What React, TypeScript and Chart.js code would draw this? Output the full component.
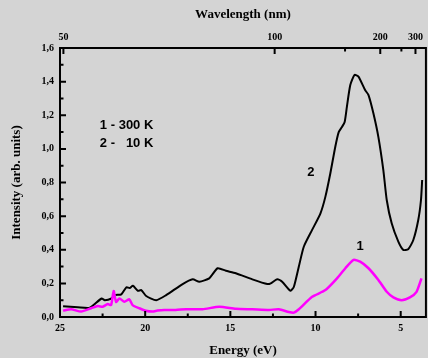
import React, { useEffect, useRef } from "react";
import { Chart, registerables } from "chart.js";

Chart.register(...registerables);

// Curve 1 (300 K, magenta)
const energy1 = [24.82, 24.34, 23.76, 23.17, 22.78, 22.49, 22.2, 22.0, 21.85, 21.71, 21.51, 21.22, 20.93, 20.74, 20.34, 19.96, 19.57, 19.28, 18.88, 18.21, 17.6, 16.63, 15.65, 14.68, 13.71, 12.73, 12.15, 11.57, 11.27, 10.98, 10.2, 9.42, 8.74, 8.25, 7.77, 7.38, 6.89, 6.31, 5.82, 5.43, 4.95, 4.46, 4.07, 3.78];
const intensity1 = [0.038, 0.046, 0.032, 0.052, 0.065, 0.061, 0.077, 0.071, 0.155, 0.09, 0.11, 0.09, 0.105, 0.071, 0.052, 0.037, 0.032, 0.038, 0.042, 0.042, 0.046, 0.046, 0.061, 0.049, 0.046, 0.042, 0.046, 0.03, 0.026, 0.046, 0.12, 0.16, 0.23, 0.29, 0.34, 0.329, 0.29, 0.22, 0.15, 0.117, 0.1, 0.117, 0.15, 0.23];

// Curve 2 (10 K, black)
const energy2 = [24.82, 23.95, 23.25, 22.56, 22.37, 21.98, 21.79, 21.4, 21.1, 20.91, 20.72, 20.43, 20.23, 19.94, 19.35, 18.77, 17.8, 17.21, 16.82, 16.24, 15.75, 15.26, 14.68, 13.71, 12.83, 12.63, 12.25, 11.96, 11.47, 11.27, 10.98, 10.69, 10.2, 9.71, 9.42, 9.13, 8.84, 8.64, 8.45, 8.29, 8.16, 7.96, 7.71, 7.48, 7.09, 6.89, 6.6, 6.31, 6.02, 5.82, 5.53, 5.14, 4.85, 4.56, 4.26, 3.97, 3.81, 3.74];
const intensity2 = [0.064, 0.058, 0.055, 0.11, 0.1, 0.11, 0.13, 0.135, 0.177, 0.172, 0.186, 0.156, 0.16, 0.125, 0.1, 0.13, 0.196, 0.224, 0.21, 0.23, 0.29, 0.275, 0.26, 0.224, 0.196, 0.2, 0.224, 0.21, 0.156, 0.18, 0.3, 0.418, 0.518, 0.617, 0.716, 0.855, 1.013, 1.1, 1.13, 1.16, 1.25, 1.38, 1.44, 1.43, 1.35, 1.32, 1.21, 1.07, 0.874, 0.696, 0.557, 0.448, 0.399, 0.403, 0.458, 0.577, 0.696, 0.815];

// Axes
const energyMin = 3.52;
const energyMax = 25;
const energyTicks = [25, 20, 15, 10, 5];
const energyMinorTicks = [22.5, 17.5, 12.5, 7.5];
const intensityTicks = [0, 0.2, 0.4, 0.6, 0.8, 1.0, 1.2, 1.4, 1.6];
const intensityMinorTicks = [0.1, 0.3, 0.5, 0.7, 0.9, 1.1, 1.3, 1.5];
const wavelengthTicks = [50, 100, 150, 200, 250, 300];
const wavelengthLabels = ["50", "100", "", "200", "", "300"];
const wavelengthMajor = [true, true, false, true, false, true];
const hcOverE = 1240; // nm·eV

// Annotations (data coordinates)
const legendLine1 = "1 - 300 K";
const legendLine2a = "2 -";
const legendLine2b = "10 K";
const legendAnchor = { x: 22.66, y1: 1.142, y2: 1.033 };
const curveLabels = [
  { text: "2", x: 10.28, y: 0.857 },
  { text: "1", x: 7.38, y: 0.418 },
];

const BG = "#d4d4d4";
const SERIF = "'Liberation Serif', 'Times New Roman', serif";
const SANS = "'Liberation Sans', Arial, sans-serif";

export default function App() {
  const ref = useRef<HTMLCanvasElement>(null);

  useEffect(() => {
    document.body.style.margin = "0";
    document.body.style.background = BG;
    const canvas = ref.current!;

    const decor = {
      id: "decor",
      beforeDraw(chart: any) {
        const ctx = chart.ctx;
        ctx.save();
        ctx.fillStyle = BG;
        ctx.fillRect(0, 0, chart.width, chart.height);
        ctx.restore();
      },
      afterDraw(chart: any) {
        const ctx = chart.ctx;
        const { left, right, top, bottom } = chart.chartArea;
        const sx = chart.scales.x;
        const sy = chart.scales.y;
        ctx.save();
        ctx.strokeStyle = "#000";
        ctx.lineWidth = 2;
        ctx.beginPath();
        const vt = (px: number, y0: number, len: number) => {
          ctx.moveTo(px, y0);
          ctx.lineTo(px, y0 + len);
        };
        const ht = (py: number, len: number) => {
          ctx.moveTo(left, py);
          ctx.lineTo(left + len, py);
        };
        energyTicks.forEach((v) => vt(sx.getPixelForValue(v), bottom, -6));
        energyMinorTicks.forEach((v) => vt(sx.getPixelForValue(v), bottom, -3.5));
        wavelengthTicks.forEach((l, i) =>
          vt(sx.getPixelForValue(hcOverE / l), top, wavelengthMajor[i] ? 6 : 3.5)
        );
        intensityTicks.forEach((v) => ht(sy.getPixelForValue(v), 6));
        intensityMinorTicks.forEach((v) => ht(sy.getPixelForValue(v), 3.5));
        ctx.stroke();
        ctx.strokeRect(left, top, right - left, bottom - top);

        // annotations
        ctx.fillStyle = "#000";
        ctx.font = `bold 13px ${SANS}`;
        ctx.textBaseline = "middle";
        ctx.textAlign = "left";
        const lx = sx.getPixelForValue(legendAnchor.x);
        const w1 = ctx.measureText(legendLine1).width;
        ctx.fillText(legendLine1, lx, sy.getPixelForValue(legendAnchor.y1));
        ctx.fillText(legendLine2a, lx, sy.getPixelForValue(legendAnchor.y2));
        ctx.textAlign = "right";
        ctx.fillText(legendLine2b, lx + w1, sy.getPixelForValue(legendAnchor.y2));
        ctx.textAlign = "center";
        curveLabels.forEach((c) =>
          ctx.fillText(c.text, sx.getPixelForValue(c.x), sy.getPixelForValue(c.y))
        );
        ctx.restore();
      },
    };

    const tickFont = { family: SERIF, size: 10, weight: "bold" as const };
    const titleFont = { family: SERIF, size: 13, weight: "bold" as const };

    const chart = new Chart(canvas, {
      type: "line",
      data: {
        datasets: [
          {
            label: "1 - 300 K",
            data: energy1.map((e, i) => ({ x: e, y: intensity1[i] })),
            borderColor: "#ff00ff",
            borderWidth: 2.5,
            pointRadius: 0,
            tension: 0.2,
            fill: false,
          },
          {
            label: "2 - 10 K",
            data: energy2.map((e, i) => ({ x: e, y: intensity2[i] })),
            borderColor: "#000000",
            borderWidth: 2,
            pointRadius: 0,
            tension: 0.2,
            fill: false,
          },
        ],
      },
      options: {
        responsive: false,
        maintainAspectRatio: false,
        devicePixelRatio: 1,
        animation: false,
        layout: { padding: { left: 0, right: 1, top: 0, bottom: 0 } },
        plugins: { legend: { display: false }, tooltip: { enabled: false } },
        scales: {
          x: {
            type: "linear",
            position: "bottom",
            min: energyMin,
            max: energyMax,
            reverse: true,
            afterBuildTicks: (s: any) => {
              s.ticks = energyTicks.map((v) => ({ value: v }));
            },
            afterFit: (s: any) => {
              s.height = 41;
            },
            ticks: {
              font: tickFont,
              color: "#000",
              padding: 5,
              maxRotation: 0,
              autoSkip: false,
              callback: (v: any) => String(v),
            },
            grid: { display: false, drawTicks: false },
            border: { display: false },
            title: {
              display: true,
              text: "Energy (eV)",
              font: titleFont,
              color: "#000",
              padding: { top: 0, bottom: 0 },
            },
          },
          x2: {
            type: "linear",
            position: "top",
            min: energyMin,
            max: energyMax,
            reverse: true,
            afterBuildTicks: (s: any) => {
              s.ticks = wavelengthTicks.map((l) => ({ value: hcOverE / l }));
            },
            afterFit: (s: any) => {
              s.height = 48;
            },
            ticks: {
              font: tickFont,
              color: "#000",
              padding: 5,
              maxRotation: 0,
              autoSkip: false,
              callback: (_v: any, i: number) => wavelengthLabels[i],
            },
            grid: { display: false, drawTicks: false },
            border: { display: false },
            title: {
              display: true,
              text: "Wavelength (nm)",
              font: titleFont,
              color: "#000",
              padding: { top: 7, bottom: 0 },
            },
          },
          y: {
            type: "linear",
            position: "left",
            min: 0,
            max: 1.6,
            afterBuildTicks: (s: any) => {
              s.ticks = intensityTicks.map((v) => ({ value: v }));
            },
            afterFit: (s: any) => {
              s.width = 60;
            },
            ticks: {
              font: tickFont,
              color: "#000",
              padding: 6,
              autoSkip: false,
              callback: (v: any) => Number(v).toFixed(1).replace(".", ","),
            },
            grid: { display: false, drawTicks: false },
            border: { display: false },
            title: {
              display: true,
              text: "Intensity (arb. units)",
              font: titleFont,
              color: "#000",
              padding: { top: 9, bottom: 0 },
            },
          },
        },
      },
      plugins: [decor],
    } as any);

    return () => chart.destroy();
  }, []);

  return (
    <div style={{ position: "absolute", left: 0, top: 0, width: 428, height: 358 }}>
      <canvas
        ref={ref}
        width={428}
        height={358}
        style={{ display: "block", width: 428, height: 358 }}
      />
    </div>
  );
}
